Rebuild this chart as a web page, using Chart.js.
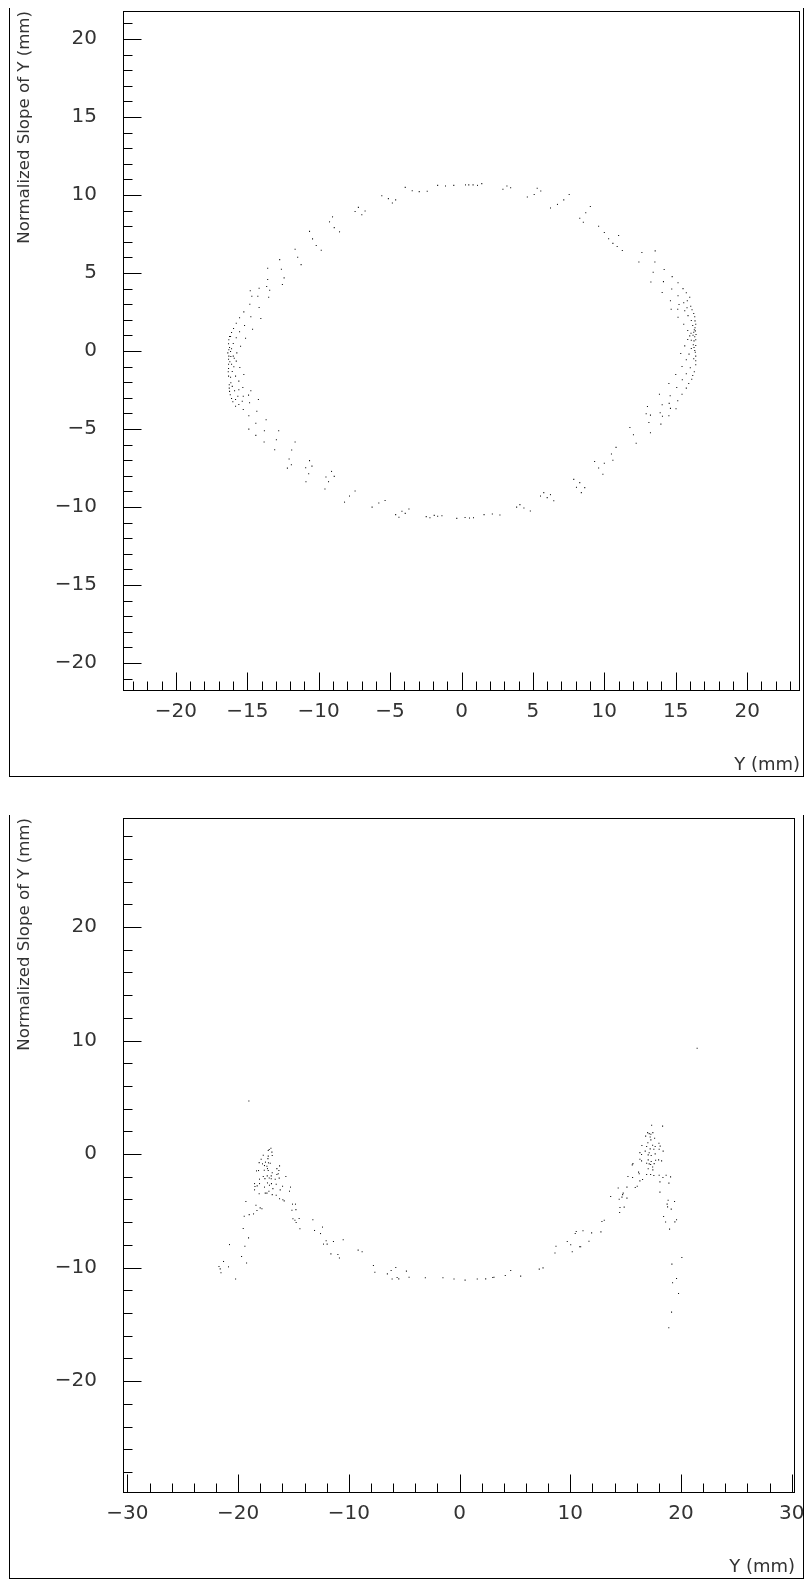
<!DOCTYPE html>
<html>
<head>
<meta charset="utf-8">
<script src="https://cdn.jsdelivr.net/npm/chart.js@4.4.1/dist/chart.umd.min.js"></script>
<style>
  body { margin: 0; background: #fff; width: 804px; height: 1580px; position: relative; overflow: hidden; }
  .frame { position: absolute; box-sizing: border-box; border: 1px solid #000; border-top: none; }
  canvas { position: absolute; left: 0; }
</style>
</head>
<body>
<div class="frame" style="left:9px;top:8px;width:795px;height:769px"></div>
<div class="frame" style="left:9px;top:815px;width:795px;height:764px"></div>
<canvas id="topChart" width="804" height="780" style="top:0"></canvas>
<canvas id="botChart" width="804" height="790" style="top:790px"></canvas>
<script>
// ── data (Y in mm, normalized slope of Y in mm) ───────────────────────
const X_TITLE = 'Y (mm)';
const Y_TITLE = 'Normalized Slope of Y (mm)';

const topXRange = [-23.7, 23.7];
const topYRange = [-21.8, 21.8];
const botXRange = [-30.4, 30.3];
const botYRange = [-29.85, 29.6];

const topTicks = { xMajor: 5, xMinor: 1, yMajor: 5, yMinor: 1 };
const botTicks = { xMajor: 10, xMinor: 2, yMajor: 10, yMinor: 2 };

// upper panel: closed ellipse
const ellipsePoints = [
  [-14.79,3.86],[-14.68,3.51],[-14.26,3.51],[-14.17,4.02],[-13.64,4.13],[-13.50,3.45],[-13.43,3.89],[-13.57,4.58],
  [-13.57,5.30],[-12.73,5.86],[-12.61,5.24],[-12.42,4.69],[-12.54,4.26],[-11.65,6.52],[-11.47,6.01],[-11.23,5.54],
  [-10.64,7.67],[-10.43,7.19],[-10.17,6.76],[-9.82,6.46],[-9.24,8.28],[-9.03,8.60],[-8.91,7.91],[-8.54,7.64],
  [-7.45,8.94],[-7.22,9.21],[-6.98,8.73],[-6.75,8.98],[-5.58,9.96],[-5.12,9.77],[-4.84,9.49],[-4.61,9.69],
  [-3.94,10.49],[-3.45,10.28],[-2.96,10.22],[-2.40,10.24],[-1.67,10.62],[-1.12,10.58],[-0.54,10.62],[0.28,10.65],
  [0.51,10.65],[0.81,10.65],[1.12,10.62],[1.42,10.73],[2.90,10.37],[3.18,10.58],[3.44,10.47],[4.61,9.88],
  [5.09,10.03],[5.30,10.43],[5.55,10.26],[6.23,9.17],[6.72,9.40],[7.16,9.69],[7.54,10.04],[8.28,8.51],
  [8.53,8.25],[8.70,8.87],[9.02,9.26],[9.6,8.0],[10.0,7.6],[10.3,7.2],[10.6,6.9],[11.0,7.4],[10.9,6.7],
  [-14.82,3.00],[-14.17,2.79],[-15.24,2.51],[-14.75,2.19],[-14.05,2.08],[-15.54,2.13],[-15.77,1.78],[-15.19,1.63],
  [-14.63,1.40],[-15.96,1.44],[-16.10,1.19],[-15.54,1.23],[-16.24,0.93],[-16.17,0.93],[-15.77,0.85],[-15.12,0.82],
  [-16.29,0.72],[-15.98,0.48],[-15.47,0.31],[-16.31,0.46],[-16.24,0.22],[-16.10,0.14],[-16.29,0.08],[-15.73,-0.12],
  [-16.17,-0.03],[-16.36,-0.12],[-16.29,-0.33],[-16.15,-0.35],[-15.98,-0.33],[-15.91,-0.46],[-16.31,-0.53],[-15.77,-0.65],
  [-16.22,-0.69],[-16.31,-0.85],[-16.10,-0.85],[-15.94,-1.01],[-15.52,-1.06],[-16.31,-1.12],[-16.05,-1.31],[-16.33,-1.33],
  [-15.24,-1.51],[-15.82,-1.61],[-16.31,-1.61],[-16.17,-1.68],[-15.59,-1.93],[-16.15,-2.04],[-16.26,-2.17],[-16.05,-2.27],
  [-15.31,-2.34],[-16.26,-2.38],[-15.59,-2.49],[-14.75,-2.55],[-15.89,-2.55],[-16.24,-2.59],[-15.28,-2.90],[-14.91,-2.83],
  [-15.66,-2.90],[-16.19,-2.81],[-15.82,-3.11],[-16.10,-3.04],[-14.22,-3.11],
  [-16.01,-3.25],[-15.82,-3.54],[-15.59,-3.43],[-15.35,-3.22],[-15.28,-3.75],[-14.84,-3.32],[-14.89,-4.15],[-14.33,-3.86],
  [-14.40,-4.63],[-13.68,-4.41],[-14.89,-5.01],[-14.40,-5.41],[-13.80,-5.11],[-12.80,-5.11],[-13.82,-5.84],[-12.96,-5.69],
  [-11.65,-5.84],[-13.08,-6.33],[-11.89,-6.35],[-12.07,-6.93],[-12.19,-7.51],[-11.91,-7.29],[-10.64,-7.03],[-10.91,-7.48],
  [-10.47,-7.38],[-10.70,-7.87],[-10.89,-8.38],[-9.49,-8.08],[-9.10,-7.72],[-8.91,-8.04],[-9.31,-8.38],[-9.56,-8.85],
  [-8.19,-9.69],[-7.84,-9.30],[-7.45,-8.98],[-6.26,-10.01],[-5.79,-9.75],[-5.35,-9.58],[-4.61,-10.49],[-4.38,-10.66],
  [-4.17,-10.28],[-3.94,-10.41],[-3.68,-10.13],[-2.47,-10.62],[-2.21,-10.69],[-1.91,-10.54],[-1.67,-10.60],[-1.37,-10.56],
  [-0.33,-10.73],[0.25,-10.67],[0.56,-10.71],[0.84,-10.69],[1.58,-10.49],[2.16,-10.45],[2.69,-10.52],[3.86,-10.01],
  [4.09,-9.85],[4.37,-10.07],[4.82,-10.26],[5.53,-9.30],[5.76,-9.08],[6.00,-9.40],[6.23,-9.21],[6.46,-9.60],
  [7.86,-8.23],[8.05,-8.74],[8.28,-8.44],[8.39,-9.08],[8.63,-8.76],[9.32,-7.08],[9.6,-7.5],[10.0,-7.2],[10.5,-6.6],
  [9.9,-7.9],[10.6,-7.0],
  [11.26,6.44],[12.63,6.31],[13.56,6.42],[12.42,5.71],[13.54,5.71],[14.19,5.22],[13.42,5.05],[14.75,4.77],
  [13.26,4.43],[14.14,4.45],[15.16,4.37],[15.51,4.00],[14.72,3.98],[15.74,3.73],[14.05,3.75],[15.16,3.54],
  [15.98,3.45],[14.63,3.22],[15.81,3.22],[15.56,3.09],[15.23,2.98],[16.05,2.87],[16.14,2.64],[15.79,2.77],
  [15.63,2.58],[14.68,2.68],[15.14,2.68],[16.26,2.40],[15.86,2.27],[16.33,2.19],[15.16,2.17],[16.09,1.95],
  [16.35,1.93],[15.56,1.72],[16.40,1.72],[16.19,1.63],[16.35,1.49],[16.30,1.36],[15.84,1.31],[16.37,1.29],
  [16.07,1.14],[16.26,1.20],[16.42,1.06],[16.21,1.01],[15.98,0.97],[16.33,0.91],[16.40,0.72],[16.09,0.69],
  [15.84,0.74],[16.28,0.65],[15.63,0.33],[16.23,0.40],[16.40,0.35],[16.09,0.16],[16.28,0.22],[16.33,0.03],
  [16.37,-0.08],[15.35,-0.16],[15.93,-0.20],[16.40,-0.33],[15.74,-0.56],[16.26,-0.50],[16.40,-0.63],[15.44,-0.99],
  [16.02,-1.08],[16.40,-0.88],[16.30,-1.33],[15.00,-1.51],[15.74,-1.46],[16.19,-1.57],[15.46,-1.84],[16.12,-1.81],
  [14.52,-2.08],[15.07,-2.34],[15.74,-2.38],[15.91,-2.08],[15.44,-2.77],[13.86,-2.77],[14.61,-2.87],[15.14,-3.19],
  [14.54,-3.36],[14.05,-3.45],[13.02,-3.56],[15.02,-3.70],[14.63,-3.68],[13.91,-3.96],[12.93,-4.02],[14.07,-4.18],
  [14.52,-4.15],[13.23,-4.11],[13.12,-4.58],[13.96,-4.69],[11.79,-4.90],[13.23,-5.24],[12.04,-5.37],[12.23,-5.91],
  [10.82,-6.18]
];

// lower panel: open arc with two peaks
const arcPoints = [
  [-19.03,4.68],[-17.04,0.52],[-17.19,0.40],[-17.28,0.31],[-16.95,0.17],[-17.73,-0.10],[-17.28,-0.18],[-16.92,-0.13],
  [-17.92,-0.45],[-17.31,-0.40],[-18.10,-0.75],[-17.53,-0.71],[-17.26,-0.77],[-17.80,-0.86],[-17.10,-0.80],[-17.62,-1.01],
  [-17.40,-1.07],[-16.26,-1.04],[-16.50,-1.28],[-17.35,-1.28],[-18.34,-1.48],[-18.16,-1.45],[-17.64,-1.42],[-17.28,-1.45],
  [-16.32,-1.45],[-16.92,-1.65],[-16.38,-1.74],[-16.50,-1.80],[-17.73,-1.98],[-17.37,-1.92],[-17.01,-1.92],[-15.69,-1.98],
  [-18.07,-2.21],[-17.58,-2.16],[-17.19,-2.10],[-17.01,-2.18],[-16.65,-2.21],[-16.29,-2.12],[-18.52,-2.60],[-18.07,-2.60],
  [-17.35,-2.54],[-16.99,-2.60],[-16.56,-2.65],[-18.28,-2.80],[-18.48,-2.86],[-17.62,-2.91],[-17.17,-2.74],[-15.99,-2.83],
  [-16.86,-3.04],[-16.20,-3.15],[-15.27,-2.91],[-15.36,-3.27],[-17.22,-3.27],[-18.52,-3.15],[-18.10,-3.50],[-17.55,-3.44],
  [-17.40,-3.44],[-16.92,-3.57],[-16.56,-3.62],[-16.26,-3.94],[-15.96,-4.03],[-15.84,-4.12],[-19.30,-4.18],[-18.39,-4.50],
  [-18.01,-4.74],[-17.85,-4.82],[-18.30,-4.97],[-19.00,-5.33],[-18.61,-5.27],[-19.45,-5.47],[-15.09,-4.41],[-14.82,-4.41],
  [-15.14,-4.94],[-14.78,-4.89],[-15.05,-5.70],[-14.49,-5.68],[-14.87,-5.82],[-14.76,-6.03],[-14.42,-6.58],[-13.25,-5.79],
  [-12.38,-6.43],[-13.10,-6.73],[-12.56,-7.00],[-12.05,-7.64],[-11.39,-7.70],[-10.51,-7.55],[-12.29,-7.93],[-11.96,-7.93],
  [-11.62,-8.79],[-10.99,-8.85],[-10.85,-9.16],[-9.16,-8.46],[-8.80,-8.61],[-7.78,-9.82],[-7.65,-10.40],[-19.54,-6.56],
  [-19.06,-7.38],[-20.78,-7.97],[-19.39,-8.11],[-19.69,-9.02],[-19.24,-9.60],[-21.32,-9.46],[-21.73,-9.90],[-20.87,-9.93],
  [-21.62,-10.11],[-21.55,-10.46],[-20.23,-11.01],
  [-6.52,-10.55],[-6.18,-10.26],[-5.76,-9.99],[-6.09,-11.01],[-5.64,-10.87],[-5.49,-10.99],[-4.80,-10.31],[-4.56,-10.84],
  [-3.09,-10.90],[-1.5,-10.9],[-0.5,-11.0],[0.5,-11.1],[1.6,-11.0],[2.36,-10.99],[3.00,-10.87],[3.11,-10.84],[4.13,-10.70],
  [4.62,-10.26],[5.52,-10.75],[7.20,-10.13],[7.54,-10.02],[8.62,-8.72],[8.71,-8.11],[9.73,-7.70],[10.04,-7.99],
  [10.45,-7.00],[10.54,-6.82],[10.85,-8.17],[10.18,-8.61],
  [21.46,9.32],[17.35,2.54],[18.34,2.46],[16.99,1.89],[17.46,1.89],[17.13,1.80],[17.28,1.75],[16.81,1.58],
  [17.22,1.51],[17.62,1.40],[17.28,1.25],[17.01,0.99],[18.01,0.96],[16.47,0.75],[16.90,0.66],[17.44,0.78],
  [17.67,0.66],[18.12,0.70],[17.22,0.46],[17.55,0.43],[18.03,0.43],[16.77,0.26],[18.39,0.26],[17.13,0.11],
  [16.29,0.13],[16.44,-0.04],[17.04,-0.07],[17.31,-0.13],[17.67,0.02],[16.29,-0.45],[16.44,-0.60],[17.04,-0.51],
  [17.31,-0.66],[17.71,-0.54],[17.98,-0.51],[18.25,-0.60],[16.90,-0.80],[17.13,-0.86],[17.26,-0.92],[17.58,-0.84],
  [15.66,-0.84],[15.60,-0.95],[17.44,-1.13],[17.04,-1.30],[17.46,-1.39],[16.17,-1.59],[16.23,-1.74],[16.90,-1.80],
  [17.26,-1.80],[17.55,-1.89],[18.03,-1.86],[18.37,-2.07],[18.66,-1.86],[19.06,-2.01],[15.21,-1.98],[15.63,-2.07],
  [16.53,-2.24],[16.29,-2.36],[18.10,-2.45],[18.91,-2.56],[16.05,-2.83],[15.87,-2.95],[15.12,-2.91],[14.33,-2.98],
  [14.78,-3.44],[14.73,-3.57],[18.10,-3.35],[13.65,-3.74],[14.67,-3.79],[15.12,-3.88],[14.42,-3.97],[18.84,-4.06],
  [19.42,-4.18],[18.75,-4.41],[18.79,-4.65],[19.12,-4.85],[14.49,-4.71],[14.87,-4.67],[14.46,-5.15],[18.43,-5.50],
  [19.60,-5.79],[19.45,-5.97],[18.61,-5.99],[13.07,-5.82],[12.86,-5.94],[18.97,-6.61],[11.15,-6.76],[11.93,-6.94],
  [12.77,-6.85],[11.69,-7.67],[10.94,-8.17],[20.08,-9.11],[19.18,-9.69],[19.60,-10.96],[19.24,-11.34],[19.78,-12.28],
  [19.15,-13.92],[18.9,-15.3]
];

// ── drawing ──────────────────────────────────────────────────────────
const FONT = "'DejaVu Sans', sans-serif";
const INK = '#333';

function fmtTick(v) {
  return v < 0 ? '\u2212' + Math.abs(v) : String(v);
}

// ROOT style frame: box round the plot and inward ticks
const rootAxes = {
  id: 'rootAxes',
  afterDraw(chart, args, opts) {
    const { ctx, chartArea: a, scales: { x, y } } = chart;
    ctx.save();
    ctx.strokeStyle = '#000';
    ctx.lineWidth = 1;
    const l = Math.round(a.left) + 0.5, t = Math.round(a.top) + 0.5;
    const r = Math.round(a.right) - 0.5, b = Math.round(a.bottom) - 0.5;
    ctx.strokeRect(l, t, r - l, b - t);
    ctx.beginPath();
    const each = (scale, minor, major, cb) => {
      for (let i = Math.ceil(scale.min / minor); i * minor <= scale.max; i++) {
        const v = i * minor;
        const isMajor = Math.abs(v / major - Math.round(v / major)) < 1e-6;
        cb(Math.round(scale.getPixelForValue(v)) + 0.5, isMajor ? opts.major : opts.minor);
      }
    };
    each(y, opts.steps.yMinor, opts.steps.yMajor, (p, len) => { ctx.moveTo(l, p); ctx.lineTo(l + len, p); });
    each(x, opts.steps.xMinor, opts.steps.xMajor, (p, len) => { ctx.moveTo(p, b); ctx.lineTo(p, b - len); });
    ctx.stroke();
    ctx.restore();
  }
};

// fixed axis sizes, no label overhang padding
function pinAxis(s, size) {
  if (s.isHorizontal()) s.height = size; else s.width = size;
  s.paddingTop = 0; s.paddingBottom = 0; s.paddingLeft = 0; s.paddingRight = 0;
}

function makeChart(id, points, xRange, yRange, steps, L) {
  return new Chart(document.getElementById(id).getContext('2d'), {
    type: 'scatter',
    data: {
      datasets: [{
        data: points,
        pointStyle: 'rect',
        pointRadius: 0.75,
        borderWidth: 0,
        backgroundColor: '#111'
      }]
    },
    options: {
      responsive: false,
      animation: false,
      devicePixelRatio: 1,
      layout: { padding: { top: L.top, right: L.right, left: 0, bottom: 0 } },
      plugins: {
        legend: { display: false },
        tooltip: { enabled: false },
        rootAxes: { steps, major: 18, minor: 9 }
      },
      scales: {
        x: {
          type: 'linear', min: xRange[0], max: xRange[1],
          afterFit: s => pinAxis(s, L.xAxisH),
          grid: { display: false, drawTicks: false },
          border: { display: false },
          ticks: {
            stepSize: steps.xMajor, includeBounds: false, autoSkip: false, maxRotation: 0,
            padding: 9, color: INK, font: { family: FONT, size: 20 }, callback: fmtTick
          },
          title: {
            display: true, text: X_TITLE, align: 'end', color: INK,
            font: { family: FONT, size: 18 }, padding: { top: 0, bottom: L.xTitlePad }
          }
        },
        y: {
          type: 'linear', min: yRange[0], max: yRange[1],
          afterFit: s => pinAxis(s, 123),
          grid: { display: false, drawTicks: false },
          border: { display: false },
          ticks: {
            stepSize: steps.yMajor, includeBounds: false, autoSkip: false,
            padding: 26, color: INK, font: { family: FONT, size: 20 }, callback: fmtTick
          },
          title: {
            display: true, text: Y_TITLE, align: 'end', color: INK,
            font: { family: FONT, size: 16.6 }, padding: { top: 15, bottom: 0 }
          }
        }
      }
    },
    plugins: [rootAxes]
  });
}

makeChart('topChart', ellipsePoints, topXRange, topYRange, topTicks,
  { top: 11, right: 2, xAxisH: 89, xTitlePad: 4 });
makeChart('botChart', arcPoints, botXRange, botYRange, botTicks,
  { top: 28, right: 9, xAxisH: 87, xTitlePad: 2 });
</script>
</body>
</html>
